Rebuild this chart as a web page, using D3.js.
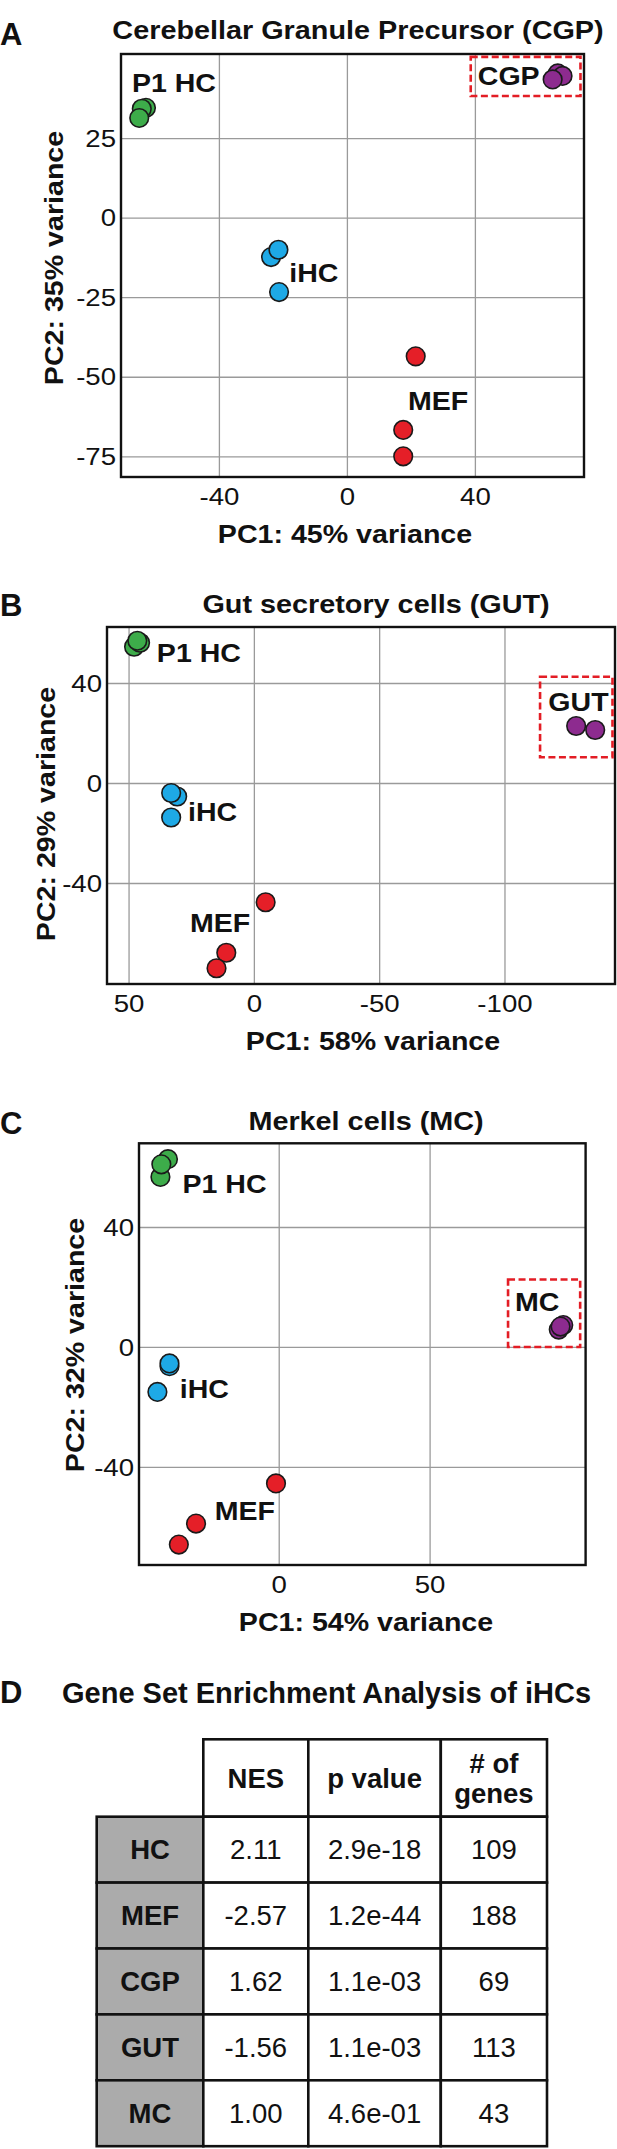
<!DOCTYPE html>
<html>
<head>
<meta charset="utf-8">
<script src="https://cdn.jsdelivr.net/npm/d3@7"></script>
<style>
  body { margin: 0; background: #fff; }
  svg { display: block; font-family: "Liberation Sans", Arial, Helvetica, sans-serif; }
</style>
</head>
<body>
<script>
'use strict';

// ---- data ----
var cgpP1HC = [[-62.8, 34.5], [-64.1, 34.2], [-64.9, 31.3]];
var cgpIHC  = [[-23.7, -12.4], [-21.4, -10.1], [-21.2, -23.4]];
var cgpMEF  = [[21.5, -43.6], [17.6, -66.7], [17.6, -75.0]];
var cgpCGP  = [[65.9, 45.3], [67.4, 44.5], [64.3, 43.4]];

var gutP1HC = [[47.8, 54.5], [45.4, 56.1], [46.5, 56.9]];
var gutIHC  = [[30.6, -5.4], [33.0, -4.0], [33.0, -13.8]];
var gutMEF  = [[-4.7, -47.7], [11.0, -67.9], [14.9, -74.1]];
var gutGUT  = [[-128.6, 22.8], [-136.2, 21.2]];

var mcP1HC = [[-36.7, 62.6], [-39.2, 56.7], [-38.9, 60.9]];
var mcIHC  = [[-36.2, -6.4], [-36.2, -5.5], [-40.2, -15.0]];
var mcMEF  = [[-0.9, -45.5], [-27.4, -58.9], [-33.1, -65.9]];
var mcMC   = [[94.3, 7.3], [92.8, 5.8], [93.4, 6.8]];

var cgpXTicks = [-40, 0, 40], cgpYTicks = [25, 0, -25, -50, -75];
var gutXTicks = [50, 0, -50, -100], gutYTicks = [40, 0, -40];
var mcXTicks = [0, 50], mcYTicks = [40, 0, -40];

var gseaSets  = ['HC', 'MEF', 'CGP', 'GUT', 'MC'];
var gseaNES   = ['2.11', '-2.57', '1.62', '-1.56', '1.00'];
var gseaP     = ['2.9e-18', '1.2e-44', '1.1e-03', '1.1e-03', '4.6e-01'];
var gseaGenes = ['109', '188', '69', '113', '43'];
var gseaHead  = [['NES'], ['p value'], ['# of', 'genes']];

var colors = { hc: '#3dac4a', ihc: '#1ea9e6', mef: '#e51f28', tgt: '#8d2b8f' };

var W = 617, H = 2149;
var svg = d3.select('body').append('svg').attr('width', W).attr('height', H);

// text helper, sx stretches glyphs horizontally like the original artwork
function txt(g, x, y, s, o) {
    o = o || {};
    var t = g.append('text')
        .attr('transform', 'translate(' + x + ',' + y + ')' + (o.rot ? ' rotate(' + o.rot + ')' : '') +
              ' scale(' + (o.sx || 1) + ',1)')
        .attr('text-anchor', o.anchor || 'start')
        .attr('font-size', o.size || 25)
        .attr('font-weight', o.weight || 'bold')
        .attr('fill', '#111')
        .text(s);
    return t;
}

// plain hyphen for negatives, as in the original
var tickFmt = function (d) { return String(d); };

function drawPca(c) {
    var g = svg.append('g');
    var x = d3.scaleLinear().domain(c.xDomain).range([c.left, c.right]);
    var y = d3.scaleLinear().domain(c.yDomain).range([c.bottom, c.top]);

    txt(g, 0, c.letterY, c.letter, { size: 31 });
    txt(g, c.titleX, c.titleY, c.title, { size: 25.5, sx: 1.13, anchor: 'middle' });

    var xa = g.append('g').attr('transform', 'translate(0,' + c.bottom + ')')
        .call(d3.axisBottom(x).tickValues(c.xTicks).tickSize(-(c.bottom - c.top)).tickPadding(10.5).tickFormat(tickFmt));
    var ya = g.append('g').attr('transform', 'translate(' + c.left + ',0)')
        .call(d3.axisLeft(y).tickValues(c.yTicks).tickSize(-(c.right - c.left)).tickPadding(5).tickFormat(tickFmt));
    [xa, ya].forEach(function (a) {
        a.select('.domain').remove();
        a.selectAll('line').attr('stroke', '#9a9a9a').attr('stroke-width', 1.3);
        a.selectAll('text').attr('font-size', 24).attr('fill', '#111')
            .attr('font-family', '"Liberation Sans", Arial, sans-serif');
    });
    xa.selectAll('text').attr('transform', 'scale(1.15,1)');
    ya.selectAll('text').attr('x', -5 / 1.15).attr('dy', '0.34em').attr('transform', 'scale(1.15,1)');

    g.append('rect')
        .attr('x', c.left).attr('y', c.top)
        .attr('width', c.right - c.left).attr('height', c.bottom - c.top)
        .attr('fill', 'none').attr('stroke', '#111').attr('stroke-width', 2.4);

    txt(g, c.xLabelX, c.bottom + 66, c.xLabel, { size: 26, sx: 1.1, anchor: 'middle' });
    txt(g, c.yLabelX, c.yLabelY, c.yLabel, { size: 26, sx: 1.1, anchor: 'middle', rot: -90 });

    // dashed highlight box round the comparison population
    var b = c.box;
    g.append('rect')
        .attr('x', x(b[0])).attr('y', y(b[2]))
        .attr('width', x(b[1]) - x(b[0])).attr('height', y(b[3]) - y(b[2]))
        .attr('fill', 'none').attr('stroke', '#e31d25').attr('stroke-width', 2.6)
        .attr('stroke-dasharray', '7,3.5');

    c.groups.forEach(function (grp) {
        txt(g, x(grp.label[1]), y(grp.label[2]), grp.label[0], { size: 25.5, sx: 1.12 });
    });
    c.groups.forEach(function (grp) {
        g.selectAll(null).data(grp.pts).enter().append('circle')
            .attr('cx', function (d) { return x(d[0]); })
            .attr('cy', function (d) { return y(d[1]); })
            .attr('r', 9.3)
            .attr('fill', grp.color)
            .attr('stroke', '#1a1a1a').attr('stroke-width', 1.6);
    });
}

drawPca({
    letter: 'A', letterY: 44.5, title: 'Cerebellar Granule Precursor (CGP)', titleX: 358, titleY: 39,
    left: 121, right: 584, top: 54, bottom: 477,
    xDomain: [-70.6, 74.1], yDomain: [-81.5, 51.4], xTicks: cgpXTicks, yTicks: cgpYTicks,
    xLabel: 'PC1: 45% variance', xLabelX: 345,
    yLabel: 'PC2: 35% variance', yLabelX: 63, yLabelY: 258,
    box: [38.7, 73.0, 50.5, 38.2],
    groups: [
        { pts: cgpP1HC, color: colors.hc, label: ['P1 HC', -67.2, 39.5] },
        { pts: cgpIHC, color: colors.ihc, label: ['iHC', -18.0, -20.1] },
        { pts: cgpMEF, color: colors.mef, label: ['MEF', 19.1, -60.6] },
        { pts: cgpCGP, color: colors.tgt, label: ['CGP', 40.9, 41.6] }
    ]
});

drawPca({
    letter: 'B', letterY: 616, title: 'Gut secretory cells (GUT)', titleX: 376, titleY: 613,
    left: 107, right: 615, top: 627, bottom: 984,
    xDomain: [58.6, -144.1], yDomain: [-80.4, 62.4], xTicks: gutXTicks, yTicks: gutYTicks,
    xLabel: 'PC1: 58% variance', xLabelX: 373,
    yLabel: 'PC2: 29% variance', yLabelX: 55, yLabelY: 814,
    box: [-114.2, -143.1, 42.5, 10.3],
    groups: [
        { pts: gutP1HC, color: colors.hc, label: ['P1 HC', 38.7, 48.5] },
        { pts: gutIHC, color: colors.ihc, label: ['iHC', 26.3, -15.2] },
        { pts: gutMEF, color: colors.mef, label: ['MEF', 25.5, -59.6] },
        { pts: gutGUT, color: colors.tgt, label: ['GUT', -117.5, 28.9] }
    ]
});

drawPca({
    letter: 'C', letterY: 1134, title: 'Merkel cells (MC)', titleX: 366, titleY: 1130,
    left: 139, right: 585.6, top: 1143.3, bottom: 1565,
    xDomain: [-46.3, 101.7], yDomain: [-72.7, 67.9], xTicks: mcXTicks, yTicks: mcYTicks,
    xLabel: 'PC1: 54% variance', xLabelX: 366,
    yLabel: 'PC2: 32% variance', yLabelX: 84, yLabelY: 1345,
    box: [76.0, 99.9, 22.5, 0],
    groups: [
        { pts: mcP1HC, color: colors.hc, label: ['P1 HC', -31.9, 51.4] },
        { pts: mcIHC, color: colors.ihc, label: ['iHC', -32.8, -17.1] },
        { pts: mcMEF, color: colors.mef, label: ['MEF', -21.2, -57.7] },
        { pts: mcMC, color: colors.tgt, label: ['MC', 78.3, 12.1] }
    ]
});

// ---- D: GSEA table ----
var tg = svg.append('g');
txt(tg, 0, 1703, 'D', { size: 31 });
txt(tg, 62, 1703, 'Gene Set Enrichment Analysis of iHCs', { size: 29 });

var colEdges = [96.7, 203.3, 308.3, 440.8, 547];
var headTop = 1739.3, headBottom = 1816.7;
var rowY = d3.scaleBand().domain(gseaSets).range([headBottom, 2146.2]);
var border = 2.6;

gseaHead.forEach(function (h, i) {
    var x0 = colEdges[i + 1], x1 = colEdges[i + 2];
    tg.append('rect').attr('x', x0).attr('y', headTop).attr('width', x1 - x0).attr('height', headBottom - headTop)
        .attr('fill', '#fff').attr('stroke', '#111').attr('stroke-width', border);
    var cy = (headTop + headBottom) / 2;
    h.forEach(function (line, k) {
        var off = h.length === 1 ? 0 : (k === 0 ? -15 : 15);
        txt(tg, (x0 + x1) / 2, cy + off + 9.5, line, { size: 27.5, anchor: 'middle' });
    });
});

var cols = [gseaSets, gseaNES, gseaP, gseaGenes];
gseaSets.forEach(function (set, r) {
    cols.forEach(function (col, i) {
        var x0 = colEdges[i], x1 = colEdges[i + 1];
        tg.append('rect').attr('x', x0).attr('y', rowY(set)).attr('width', x1 - x0).attr('height', rowY.bandwidth())
            .attr('fill', i === 0 ? '#ababab' : '#fff').attr('stroke', '#111').attr('stroke-width', border);
        txt(tg, (x0 + x1) / 2, rowY(set) + rowY.bandwidth() / 2 + 9.5, col[r],
            { size: 27.5, anchor: 'middle', weight: i === 0 ? 'bold' : 'normal' });
    });
});
</script>
</body>
</html>
